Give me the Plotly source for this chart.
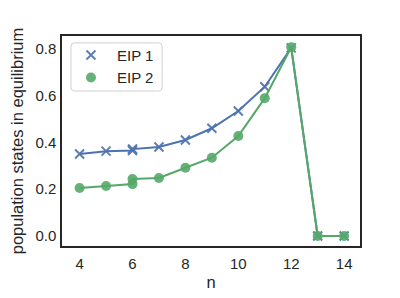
import plotly.graph_objects as go

n = [4, 5, 6, 6, 7, 8, 9, 10, 11, 12, 13, 14]
eip1 = [0.351, 0.363, 0.366, 0.372, 0.381, 0.411, 0.461, 0.535, 0.639, 0.805, 0.0, 0.0]
eip2 = [0.205, 0.214, 0.222, 0.244, 0.248, 0.292, 0.335, 0.428, 0.590, 0.808, 0.0, 0.0]

blue = "#4C72B0"
green = "#55A868"
fnt = "Liberation Sans, Arial, sans-serif"
dark = "#262626"

fig = go.Figure()
fig.add_trace(go.Scatter(x=n, y=eip1, mode="lines", line=dict(color=blue, width=2), showlegend=False))
fig.add_trace(go.Scatter(x=n, y=eip1, mode="markers", name="EIP 1",
                         marker=dict(symbol="x-thin", size=9, line=dict(color=blue, width=2), color=blue, opacity=0.9)))
fig.add_trace(go.Scatter(x=n, y=eip2, mode="lines", line=dict(color=green, width=2), showlegend=False))
fig.add_trace(go.Scatter(x=n, y=eip2, mode="markers", name="EIP 2",
                         marker=dict(symbol="circle", size=10, color=green, opacity=0.9)))

# legend frame (rounded box)
x0, x1, y0, y1, r = 0.030, 0.336, 0.738, 0.967, 0.012
ry = r * 298 / 210
path = (f"M {x0+r},{y1} L {x1-r},{y1} Q {x1},{y1} {x1},{y1-ry} L {x1},{y0+ry} Q {x1},{y0} {x1-r},{y0} "
        f"L {x0+r},{y0} Q {x0},{y0} {x0},{y0+ry} L {x0},{y1-ry} Q {x0},{y1} {x0+r},{y1} Z")
fig.add_shape(type="path", path=path, xref="paper", yref="paper",
              line=dict(color="#d0d0d0", width=1), fillcolor="rgba(255,255,255,0.8)", layer="above")

# page body has an 8px margin: compensate so the plot area sits at 62..360 x 36..246
fig.update_layout(
    width=400, height=298,
    margin=dict(l=54, r=48, t=28, b=60),
    paper_bgcolor="white", plot_bgcolor="white",
    font=dict(family=fnt, size=15, color=dark),
    legend=dict(x=0.01, y=0.987, xanchor="left", yanchor="top",
                bgcolor="rgba(0,0,0,0)", borderwidth=0,
                font=dict(size=15, color=dark), itemwidth=42, tracegroupgap=0),
)
fig.update_xaxes(range=[3.335, 14.6], tickvals=[4, 6, 8, 10, 12, 14], showgrid=False, zeroline=False,
                 showline=True, mirror=True, linecolor=dark, linewidth=1.5, ticks="",
                 ticklabelstandoff=3, automargin=False,
                 title=dict(text="n", font=dict(size=16.5), standoff=6))
fig.update_yaxes(range=[-0.043, 0.856], tickvals=[0.0, 0.2, 0.4, 0.6, 0.8], tickformat=".1f",
                 showgrid=False, zeroline=False,
                 showline=True, mirror=True, linecolor=dark, linewidth=1.5, ticks="",
                 ticklabelstandoff=1, automargin=False,
                 title=dict(text="population states in equilibrium", font=dict(size=16.5), standoff=11))

fig.write_html("out.html")
